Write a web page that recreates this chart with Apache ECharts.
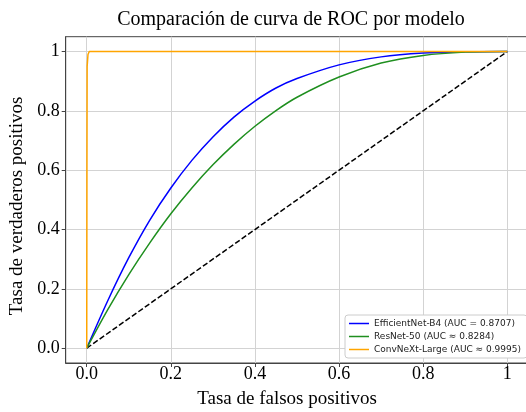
<!DOCTYPE html>
<html>
<head>
<meta charset="utf-8">
<script src="https://cdn.jsdelivr.net/npm/echarts@6/dist/echarts.min.js"></script>
<style>
  html, body { margin: 0; padding: 0; background: #fff; }
  #chart { width: 526px; height: 412px; }
</style>
</head>
<body>
<div id="chart"></div>
<script>
// ROC curves: false positive rate (x) vs true positive rate (y) per model
const modelNames = [
  'EfficientNet-B4 (AUC = 0.8707)',
  'ResNet-50 (AUC \u2248 0.8284)',
  'ConvNeXt-Large (AUC \u2248 0.9995)'
];
const modelColors = ['#0000ff', '#1f8f1f', '#ffa500'];

const effFpr = [0, 0.05, 0.1, 0.15, 0.2, 0.25, 0.3, 0.35, 0.4, 0.45, 0.5, 0.6, 0.7, 0.8, 0.9, 1];
const effTpr = [0, 0.16, 0.305, 0.432, 0.54, 0.633, 0.712, 0.779, 0.833, 0.877, 0.909, 0.955, 0.982, 0.995, 0.999, 1];

const resFpr = [0, 0.05, 0.1, 0.15, 0.2, 0.25, 0.3, 0.35, 0.4, 0.45, 0.5, 0.6, 0.7, 0.8, 0.9, 1];
const resTpr = [0, 0.13, 0.248, 0.355, 0.453, 0.54, 0.618, 0.687, 0.748, 0.801, 0.846, 0.914, 0.961, 0.987, 0.998, 1];

const cnxFpr = [0, 0.0005, 0.001, 0.003, 0.006, 1];
const cnxTpr = [0, 0.6, 0.95, 0.99, 1, 1];

const chanceFpr = [0, 1];
const chanceTpr = [0, 1];

const tickValues = [0, 0.2, 0.4, 0.6, 0.8, 1];

function pairs(xs, ys) { return xs.map((x, i) => [x, ys[i]]); }
function tickText(v) { return v === 1 ? '1' : v.toFixed(1); }

const serif = '"Liberation Serif", "DejaVu Serif", serif';
const gridLine = { show: true, lineStyle: { color: '#d3d3d3', width: 1 } };

const chart = echarts.init(document.getElementById('chart'), null, { renderer: 'canvas' });
chart.setOption({
  animation: false,
  backgroundColor: '#ffffff',
  title: {
    text: 'Comparación de curva de ROC por modelo',
    left: 286, top: 5, textAlign: 'center',
    textStyle: { fontFamily: serif, fontSize: 20, fontWeight: 'normal', color: '#000' }
  },
  grid: {
    left: 65.7, top: 36.7, width: 462.6, height: 326.3,
    outerBoundsMode: 'none', containLabel: false,
    show: true, borderColor: '#444', borderWidth: 1
  },
  xAxis: {
    type: 'value', min: -0.05, max: 1.05,
    name: 'Tasa de falsos positivos', nameLocation: 'middle', nameGap: 27,
    nameTextStyle: { fontFamily: serif, fontSize: 19, color: '#000', padding: [0, 20, 0, 0] },
    axisLine: { show: true, onZero: false, lineStyle: { color: '#444', width: 1 } },
    axisTick: { show: true, inside: false, length: 4, customValues: tickValues, lineStyle: { color: '#444' } },
    axisLabel: { customValues: tickValues, formatter: tickText, margin: 2,
      fontFamily: serif, fontSize: 18, color: '#000' },
    splitLine: gridLine
  },
  yAxis: {
    type: 'value', min: -0.05, max: 1.05,
    name: 'Tasa de verdaderos positivos', nameLocation: 'middle', nameGap: 38,
    nameTextStyle: { fontFamily: serif, fontSize: 19, color: '#000', padding: [0, 12, 0, 0] },
    axisLine: { show: true, onZero: false, lineStyle: { color: '#444', width: 1 } },
    axisTick: { show: true, inside: false, length: 4, customValues: tickValues, lineStyle: { color: '#444' } },
    axisLabel: { customValues: tickValues, formatter: tickText, margin: 6,
      fontFamily: serif, fontSize: 18, color: '#000' },
    splitLine: gridLine
  },
  legend: {
    data: modelNames,
    orient: 'vertical', left: 345, top: 315,
    padding: [4, 6, 4, 4], itemGap: 4, itemWidth: 20, itemHeight: 1.5,
    icon: 'rect',
    backgroundColor: '#ffffff', borderColor: '#cccccc', borderWidth: 1, borderRadius: 3,
    textStyle: { fontFamily: '"DejaVu Sans", sans-serif', fontSize: 9, color: '#222' }
  },
  series: [
    { name: modelNames[0], type: 'line', data: pairs(effFpr, effTpr), smooth: 0.3,
      symbol: 'none', lineStyle: { color: modelColors[0], width: 1.5 }, itemStyle: { color: modelColors[0] }, z: 3 },
    { name: modelNames[1], type: 'line', data: pairs(resFpr, resTpr), smooth: 0.3,
      symbol: 'none', lineStyle: { color: modelColors[1], width: 1.5 }, itemStyle: { color: modelColors[1] }, z: 3 },
    { name: modelNames[2], type: 'line', data: pairs(cnxFpr, cnxTpr), smooth: false,
      symbol: 'none', lineStyle: { color: modelColors[2], width: 1.5 }, itemStyle: { color: modelColors[2] }, z: 4 },
    { name: 'chance', type: 'line', data: pairs(chanceFpr, chanceTpr),
      symbol: 'none', lineStyle: { color: '#000', width: 1.5, type: [5.5, 2.4] }, z: 2 }
  ]
});
</script>
</body>
</html>
